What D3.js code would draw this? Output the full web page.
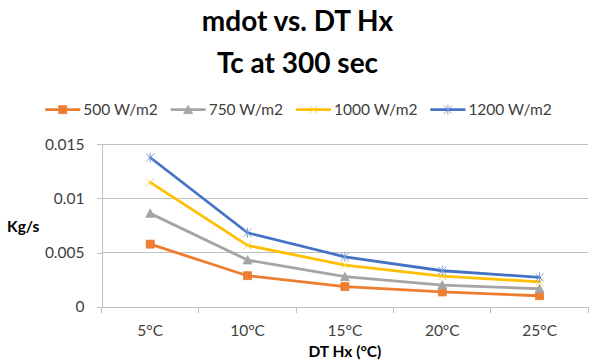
<!DOCTYPE html>
<html>
<head>
<meta charset="utf-8">
<script src="https://cdn.jsdelivr.net/npm/d3@7/dist/d3.min.js"></script>
<style>
  html, body { margin: 0; padding: 0; background: #fff; }
  svg { display: block; }
  text { font-family: Lato, "Open Sans", "Liberation Sans", sans-serif; }
</style>
</head>
<body>
<svg id="chart" width="595" height="364"></svg>
<script>
const categories = ["5°C", "10°C", "15°C", "20°C", "25°C"];
const seriesNames = ["500 W/m2", "750 W/m2", "1000 W/m2", "1200 W/m2"];
const seriesColors = ["#ED7D31", "#A5A5A5", "#FFC000", "#4472C4"];
const seriesMarkers = ["square", "triangle", "x", "star"];
const values500 = [0.00578, 0.00286, 0.00185, 0.00136, 0.00101];
const values750 = [0.00862, 0.00431, 0.00277, 0.00200, 0.00166];
const values1000 = [0.01148, 0.00566, 0.00385, 0.00283, 0.00230];
const values1200 = [0.01378, 0.00683, 0.00461, 0.00332, 0.00271];
const yTicks = [0, 0.005, 0.01, 0.015];
const yTickLabels = ["0", "0.005", "0.01", "0.015"];
const titleLines = ["mdot vs. DT Hx", "Tc at 300 sec"];
const xTitle = "DT Hx (°C)";
const yTitle = "Kg/s";

const allValues = [values500, values750, values1000, values1200];
const series = seriesNames.map((name, i) => ({
  name, color: seriesColors[i], marker: seriesMarkers[i],
  values: allValues[i].map((v, j) => ({ cat: categories[j], v }))
}));

const svg = d3.select("#chart");
const plot = { left: 101.5, right: 588.3, top: 144.3, bottom: 306.7 };

const x = d3.scaleBand().domain(categories).range([plot.left, plot.right]);
const y = d3.scaleLinear().domain([0, 0.015]).range([plot.bottom, plot.top]);
const cx = c => x(c) + x.bandwidth() / 2;

// Title
const title = svg.append("text")
  .attr("text-anchor", "middle")
  .attr("font-weight", "bold")
  .attr("font-size", 28)
  .attr("fill", "#000");
title.selectAll("tspan").data(titleLines).join("tspan")
  .attr("x", 297.5)
  .attr("y", (d, i) => 31 + i * 42)
  .text(d => d);

// Gridlines
svg.append("g").selectAll("line").data(yTicks.filter(t => t > 0)).join("line")
  .attr("x1", plot.left).attr("x2", plot.right)
  .attr("y1", d => y(d)).attr("y2", d => y(d))
  .attr("stroke", "#BFBFBF").attr("stroke-width", 1)
  .attr("shape-rendering", "crispEdges");

// Y axis
const yAxis = d3.axisLeft(y).tickValues(yTicks)
  .tickFormat((d, i) => yTickLabels[i]).tickSize(5).tickPadding(12);
const gy = svg.append("g").attr("transform", `translate(${plot.left},0)`).call(yAxis);
gy.select(".domain").attr("stroke", "#BFBFBF").attr("shape-rendering", "crispEdges");
gy.selectAll(".tick line").attr("stroke", "#BFBFBF").attr("shape-rendering", "crispEdges");
gy.selectAll(".tick text").attr("font-size", 15.5).attr("fill", "#404040")
  .style("font-family", "Lato, 'Open Sans', sans-serif");

// X axis
const xAxis = d3.axisBottom(x).tickSize(0).tickPadding(18);
const gx = svg.append("g").attr("transform", `translate(0,${plot.bottom})`).call(xAxis);
gx.select(".domain").attr("stroke", "#BFBFBF").attr("shape-rendering", "crispEdges");
gx.selectAll(".tick text").attr("font-size", 15.5).attr("fill", "#404040")
  .style("font-family", "Lato, 'Open Sans', sans-serif");
// category boundary tick marks
const bounds = categories.map(c => x(c)).concat([plot.right]);
gx.append("g").selectAll("line").data(bounds).join("line")
  .attr("x1", d => d).attr("x2", d => d).attr("y1", 0).attr("y2", 6)
  .attr("stroke", "#BFBFBF").attr("shape-rendering", "crispEdges");

// Axis titles
svg.append("text").attr("x", (plot.left + plot.right) / 2).attr("y", 357)
  .attr("text-anchor", "middle").attr("font-weight", "bold").attr("font-size", 15.5)
  .attr("fill", "#000").text(xTitle);
svg.append("text").attr("x", 7).attr("y", 232)
  .attr("font-weight", "bold").attr("font-size", 15.5)
  .attr("fill", "#000").text(yTitle);

// Marker drawing
function drawMarker(g, type, color, size) {
  const h = size / 2;
  if (type === "square") {
    g.append("rect").attr("x", -h).attr("y", -h).attr("width", size).attr("height", size)
      .attr("fill", color).attr("stroke", color).attr("stroke-width", 0.75);
  } else if (type === "triangle") {
    g.append("path").attr("d", `M0,${-h - 0.5}L${h + 0.5},${h}L${-h - 0.5},${h}Z`)
      .attr("fill", color).attr("stroke", color).attr("stroke-width", 0.75);
  } else if (type === "x") {
    g.append("path").attr("d", `M${-h},${-h}L${h},${h}M${-h},${h}L${h},${-h}`)
      .attr("stroke", color).attr("stroke-width", 1).attr("fill", "none");
  } else if (type === "star") {
    g.append("path").attr("d", `M${-h},${-h}L${h},${h}M${-h},${h}L${h},${-h}M0,${-h - 1}L0,${h + 1}`)
      .attr("stroke", color).attr("stroke-width", 1).attr("fill", "none");
  }
}

// Lines and markers
const line = d3.line().x(d => cx(d.cat)).y(d => y(d.v));
const gs = svg.append("g").selectAll("g").data(series).join("g");
gs.append("path").attr("d", d => line(d.values))
  .attr("fill", "none").attr("stroke", d => d.color).attr("stroke-width", 2.8)
  .attr("stroke-linejoin", "round").attr("stroke-linecap", "round");
gs.each(function (s) {
  const g = d3.select(this);
  s.values.forEach(p => {
    const mg = g.append("g").attr("transform", `translate(${cx(p.cat)},${y(p.v)})`);
    const lightColor = d3.interpolateRgb(s.color, "#ffffff")(s.marker === "x" || s.marker === "star" ? 0.3 : 0);
    drawMarker(mg, s.marker, lightColor, 8);
  });
});

// Legend
const legend = svg.append("g");
const items = legend.selectAll("g").data(series).join("g");
items.append("line").attr("x1", 0).attr("x2", 35).attr("y1", 0).attr("y2", 0)
  .attr("stroke", d => d.color).attr("stroke-width", 2.8);
items.each(function (s) {
  const mg = d3.select(this).append("g").attr("transform", "translate(17.5,0)");
  const lightColor = d3.interpolateRgb(s.color, "#ffffff")(s.marker === "x" || s.marker === "star" ? 0.3 : 0);
  drawMarker(mg, s.marker, lightColor, 8);
});
items.append("text").attr("x", 38).attr("y", 5.5).attr("font-size", 15.5)
  .attr("fill", "#404040").text(d => d.name);
const gap = 13;
const widths = items.nodes().map(n => 38 + d3.select(n).select("text").node().getComputedTextLength());
const total = d3.sum(widths) + gap * (widths.length - 1);
const start = 298.5 - total / 2;
items.attr("transform", (d, i) => {
  const xx = start + d3.sum(widths.slice(0, i)) + gap * i;
  return `translate(${xx},109.7)`;
});
</script>
</body>
</html>
